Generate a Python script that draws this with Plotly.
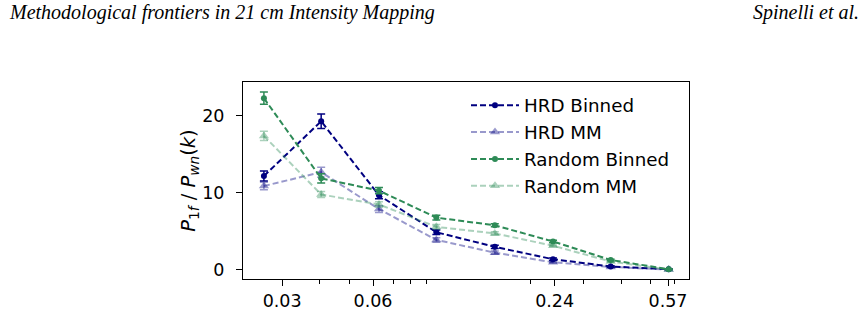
import plotly.graph_objects as go
import math

# ---- data ----
k_vals = [0.0261, 0.0404, 0.0628, 0.0973, 0.152, 0.237, 0.368, 0.573]

hrd_binned = [12.2, 19.3, 9.7, 4.9, 3.0, 1.4, 0.45, 0.1]
hrd_binned_err = [0.65, 0.95, 0.45, 0.3, 0.2, 0.15, 0.1, 0.05]

hrd_mm = [10.9, 12.7, 7.9, 3.9, 2.25, 1.0, 0.4, 0.05]
hrd_mm_err = [0.5, 0.65, 0.45, 0.3, 0.2, 0.1, 0.1, 0.05]

rand_binned = [22.3, 11.9, 10.3, 6.8, 5.8, 3.7, 1.3, 0.1]
rand_binned_err = [0.8, 0.6, 0.4, 0.3, 0.2, 0.15, 0.1, 0.05]

rand_mm = [17.4, 9.8, 8.5, 5.6, 4.75, 3.15, 1.1, 0.05]
rand_mm_err = [0.6, 0.4, 0.35, 0.3, 0.2, 0.1, 0.1, 0.05]

x_tickvals = [0.03, 0.06, 0.24, 0.57]
x_ticktext = ["0.03", "0.06", "0.24", "0.57"]
x_minor = [0.04, 0.05, 0.07, 0.08, 0.09, 0.2, 0.3, 0.4, 0.5, 0.6]
y_tickvals = [0, 10, 20]

NAVY = "#000080"
NAVY_L = "rgba(0,0,128,0.4)"
GREEN = "#2E8B57"
GREEN_L = "rgba(46,139,87,0.4)"

FONT = "DejaVu Sans"

fig = go.Figure()

series = [
    ("HRD Binned", hrd_binned, hrd_binned_err, NAVY, "circle", 6),
    ("HRD MM", hrd_mm, hrd_mm_err, NAVY_L, "triangle-up", 9),
    ("Random Binned", rand_binned, rand_binned_err, GREEN, "circle", 6),
    ("Random MM", rand_mm, rand_mm_err, GREEN_L, "triangle-up", 9),
]

for name, y, err, col, sym, ms in series:
    fig.add_trace(go.Scatter(
        x=k_vals, y=y, name=name, mode="lines+markers",
        line=dict(color=col, width=2, dash="6px,3px"),
        marker=dict(color=col, symbol=sym, size=ms, line=dict(width=0)),
        error_y=dict(type="data", array=err, visible=True, color=col,
                     thickness=1.5, width=4),
    ))

fig.update_layout(
    width=868, height=332,
    margin=dict(l=243, r=179, t=82, b=53),
    paper_bgcolor="white", plot_bgcolor="white",
    font=dict(family=FONT, size=17, color="black"),
    showlegend=True,
    legend=dict(x=0.50, y=0.975, xanchor="left", yanchor="top",
                bgcolor="rgba(0,0,0,0)", borderwidth=0,
                font=dict(family=FONT, size=18.3), tracegroupgap=0,
                itemwidth=48),
)

fig.update_xaxes(
    type="log",
    range=[math.log10(0.02225), math.log10(0.669)],
    tickmode="array", tickvals=x_tickvals, ticktext=x_ticktext,
    ticks="outside", ticklen=6, tickwidth=1, tickcolor="black",
    showline=True, linecolor="black", linewidth=1, mirror=True,
    showgrid=False, zeroline=False,
    tickfont=dict(family=FONT, size=17.5),
    minor=dict(tickmode="array", tickvals=x_minor, ticks="outside",
               ticklen=3.5, tickwidth=1, tickcolor="black", showgrid=False),
)

fig.update_yaxes(
    range=[-1.17, 24.4],
    tickmode="array", tickvals=y_tickvals,
    ticks="outside", ticklen=6, tickwidth=1, tickcolor="black",
    ticklabelstandoff=8,
    showline=True, linecolor="black", linewidth=1, mirror=True,
    showgrid=False, zeroline=False,
    tickfont=dict(family=FONT, size=17.5),
    title=dict(text="<i>P</i><sub>1<i>f</i></sub> / <i>P</i><sub><i>wn</i></sub>(<i>k</i>)",
               font=dict(family=FONT, size=19.5), standoff=0),
)

# page header
fig.add_annotation(text="<i>Methodological frontiers in 21 cm Intensity Mapping</i>",
                   xref="paper", yref="paper", x=(7 - 243) / 446, y=(279 - 12) / 197.3,
                   xanchor="left", yanchor="middle", showarrow=False,
                   font=dict(family="Liberation Serif", size=20, color="black"))
fig.add_annotation(text="<i>Spinelli et al.</i>",
                   xref="paper", yref="paper", x=(861 - 243) / 446, y=(279 - 12) / 197.3,
                   xanchor="right", yanchor="middle", showarrow=False,
                   font=dict(family="Liberation Serif", size=20, color="black"))

fig.write_html("out.html")
